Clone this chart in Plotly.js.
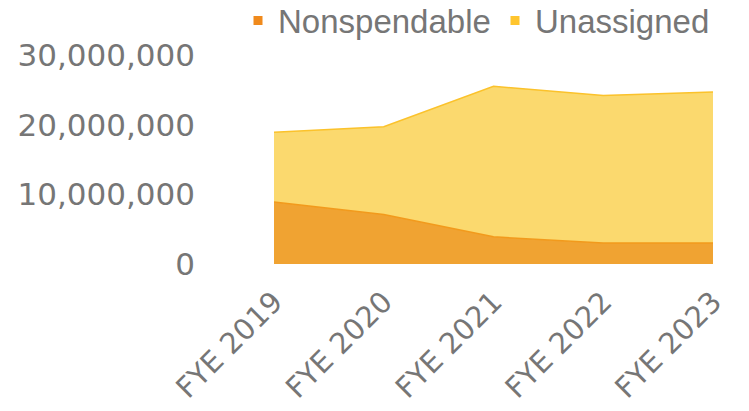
<!DOCTYPE html>
<html><head><meta charset="utf-8">
<script src="https://cdn.plot.ly/plotly-3.0.1.min.js"></script>
<style>html,body{margin:0;padding:0;background:#fff}#chart{width:749px;height:411px}</style>
</head><body><div id="chart"></div>
<script>
const categories = ["FYE 2019","FYE 2020","FYE 2021","FYE 2022","FYE 2023"];
const nonspendable = [8900000, 7100000, 3900000, 3000000, 3000000];
const unassigned = [10000000, 12600000, 21600000, 21200000, 21700000];
const seriesNames = ["Nonspendable", "Unassigned"];
const yTickVals = [0, 10000000, 20000000, 30000000];
const yTickText = ["0","10,000,000","20,000,000","30,000,000"];

const traces = [
  {x: categories, y: nonspendable, name: seriesNames[0], type: "scatter", mode: "lines",
   stackgroup: "one", fillcolor: "#F0A332", line: {color: "#F29A1C", width: 1.5}, showlegend: false},
  {x: categories, y: unassigned, name: seriesNames[1], type: "scatter", mode: "lines",
   stackgroup: "one", fillcolor: "#FBD96E", line: {color: "#FBC22B", width: 1.5}, showlegend: false},
  // legend entries (small square keys)
  {x: [categories[0]], y: [null], name: seriesNames[0], type: "scatter", mode: "markers",
   marker: {symbol: "square", size: 9, color: "#F08A1C"}, showlegend: true},
  {x: [categories[0]], y: [null], name: seriesNames[1], type: "scatter", mode: "markers",
   marker: {symbol: "square", size: 9, color: "#FFC52E"}, showlegend: true}
];
const layout = {
  width: 749, height: 411,
  margin: {l: 274, r: 36, t: 55, b: 147, autoexpand: false},
  paper_bgcolor: "#ffffff", plot_bgcolor: "#ffffff",
  showlegend: true,
  legend: {orientation: "h", x: -0.082, xanchor: "left", y: 1.165, yanchor: "middle",
    font: {family: "Liberation Sans, Arial", size: 33, color: "#767676"},
    itemwidth: 30, entrywidth: 212, entrywidthmode: "pixels",
    traceorder: "normal", bgcolor: "rgba(0,0,0,0)"},
  xaxis: {type: "category", range: [0, 4], showgrid: false, zeroline: false, showline: false,
    tickangle: -45, ticks: "", ticklabelstandoff: 14,
    tickfont: {family: "DejaVu Sans", size: 29, color: "#767676"}},
  yaxis: {range: [0, 30000000], tickvals: yTickVals, ticktext: yTickText,
    showgrid: false, zeroline: false, showline: false, ticks: "", ticklabelstandoff: 78,
    tickfont: {family: "DejaVu Sans", size: 31, color: "#767676"}}
};
Plotly.newPlot("chart", traces, layout, {displayModeBar: false, staticPlot: true});
</script></body></html>
